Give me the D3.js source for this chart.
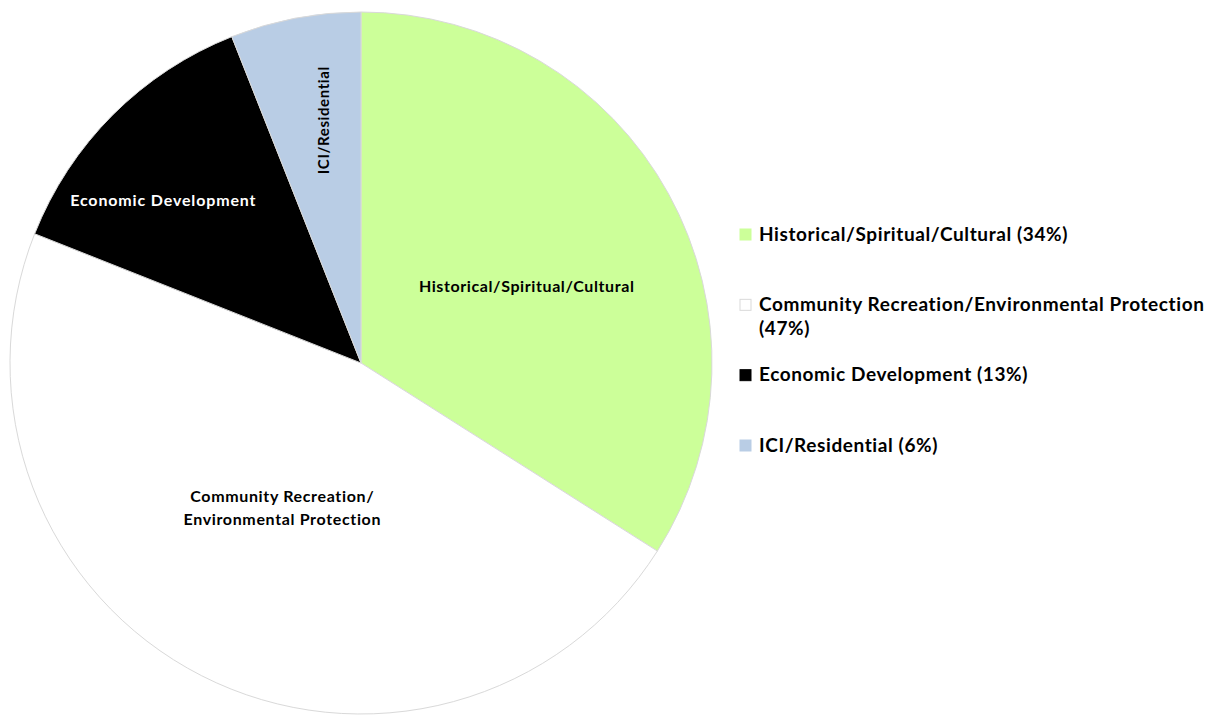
<!DOCTYPE html>
<html lang="en">
<head>
<meta charset="UTF-8">
<title>Pie</title>
<script src="https://d3js.org/d3.v7.min.js"></script>
<style>
  body { margin: 0; background: #fff; }
  text { font-family: Lato, "Open Sans", sans-serif; font-weight: bold; }
</style>
</head>
<body>
<svg id="chart" width="1219" height="716"></svg>
<script>
// categories, values and colours of the slices
var categories = ["Historical/Spiritual/Cultural", "Community Recreation/Environmental Protection", "Economic Development", "ICI/Residential"];
var values = [34, 47, 13, 6];
var colors = ["#ccff99", "#ffffff", "#000000", "#b9cde5"];
var sliceLabels = [["Historical/Spiritual/Cultural"], ["Community Recreation/", "Environmental Protection"], ["Economic Development"], ["ICI/Residential"]];
var legendLabels = [["Historical/Spiritual/Cultural (34%)"], ["Community Recreation/Environmental Protection", "(47%)"], ["Economic Development (13%)"], ["ICI/Residential (6%)"]];

var svg = d3.select("#chart");
var cx = 361, cy = 363, r = 351;

var pie = d3.pie().sort(null).value(function(d) { return d; });
var arcs = pie(values);
var arc = d3.arc().innerRadius(0).outerRadius(r);

var g = svg.append("g").attr("transform", "translate(" + cx + "," + cy + ")");

g.selectAll("path.slice")
  .data(arcs)
  .enter().append("path")
  .attr("class", "slice")
  .attr("d", arc)
  .attr("fill", function(d, i) { return colors[i]; })
  .attr("stroke", "#d9d9d9")
  .attr("stroke-width", 1);

// label placement: radius fraction and angle shift (degrees) per slice
var place = [[0.52, 4], [0.47, 1.5], [0.73, -5.5], [0.70, 2]];
var fs = [16, 16, 16, 15];
var ls = [0.6, 0.65, 0.85, 0.6];

arcs.forEach(function(d, i) {
  var a = (d.startAngle + d.endAngle) / 2 + place[i][1] * Math.PI / 180;
  var rr = r * place[i][0];
  var x = rr * Math.sin(a), y = -rr * Math.cos(a);
  var lines = sliceLabels[i];
  var t = g.append("text")
    .attr("text-anchor", "middle")
    .attr("font-size", fs[i])
    .attr("letter-spacing", ls[i])
    .attr("fill", i === 2 ? "#ffffff" : "#000000");
  if (i === 3) {
    t.attr("transform", "translate(" + x + "," + y + ") rotate(-90)")
      .attr("dy", "0.35em")
      .text(lines[0]);
  } else {
    lines.forEach(function(l, j) {
      t.append("tspan")
        .attr("x", x)
        .attr("y", y + (j - (lines.length - 1) / 2) * 23)
        .attr("dy", "0.35em")
        .text(l);
    });
  }
});

// legend
var legendY = d3.scalePoint().domain(d3.range(categories.length)).range([234, 445]);
var lg = svg.append("g");
categories.forEach(function(c, i) {
  var y = legendY(i);
  var row = lg.append("g");
  row.append("rect")
    .attr("x", 740).attr("y", y - 5)
    .attr("width", 11).attr("height", 11)
    .attr("fill", colors[i])
    .attr("stroke", i === 1 ? "#d9d9d9" : colors[i]);
  var t = row.append("text").attr("font-size", 19).attr("letter-spacing", 0.6).attr("fill", "#000");
  legendLabels[i].forEach(function(l, j) {
    t.append("tspan")
      .attr("x", 759)
      .attr("y", y + j * 24)
      .attr("dy", "0.35em")
      .text(l);
  });
});
</script>
</body>
</html>
